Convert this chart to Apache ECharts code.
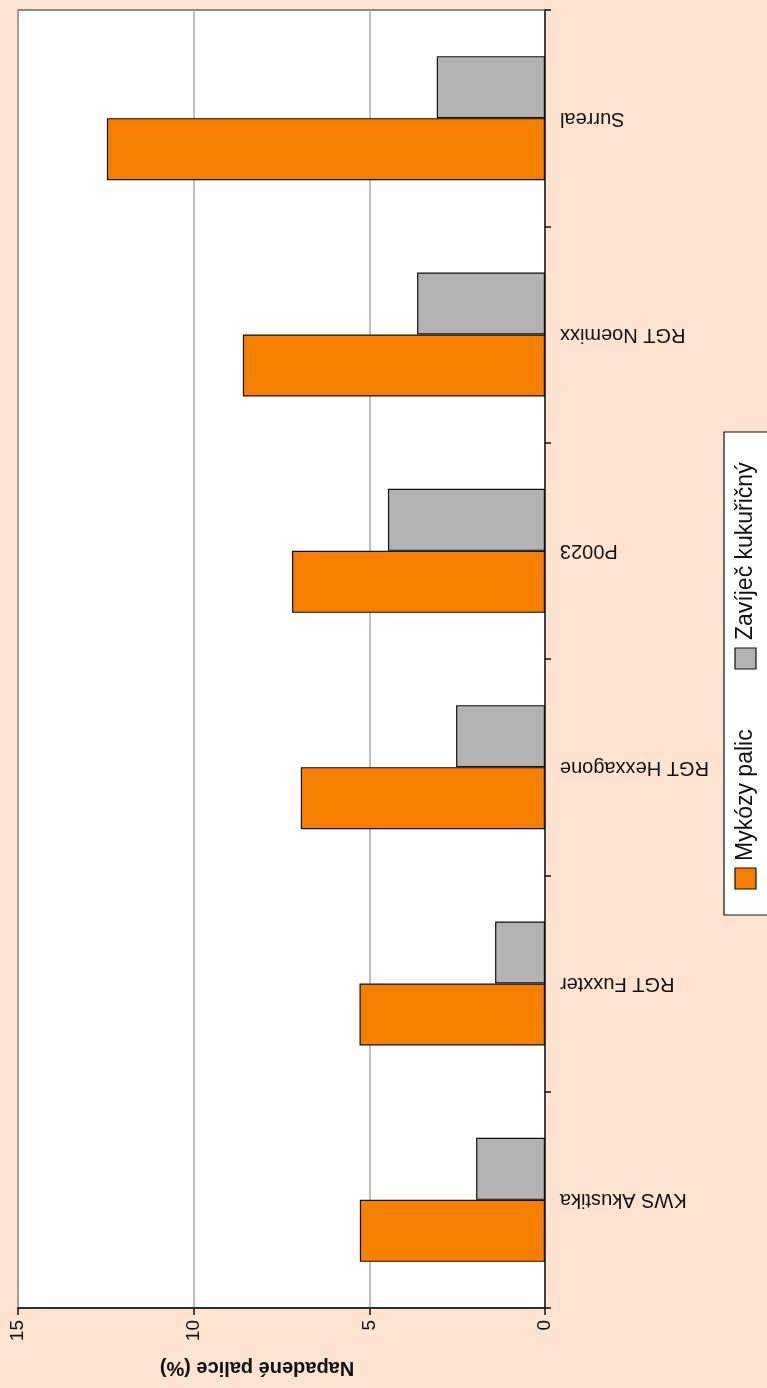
<!DOCTYPE html>
<html>
<head>
<meta charset="utf-8">
<script src="https://cdn.jsdelivr.net/npm/echarts@6/dist/echarts.min.js"></script>
<style>
html,body{margin:0;padding:0;background:#FDE3D0;}
#chart{width:767px;height:1388px;}
</style>
</head>
<body>
<div id="chart"></div>
<script>
var categories = ['KWS Akustika', 'RGT Fuxxter', 'RGT Hexxagone', 'P0023', 'RGT Noemixx', 'Surreal'];
var mykozyPalic = [5.27, 5.28, 6.95, 7.2, 8.6, 12.47];
var zavijec = [1.96, 1.42, 2.53, 4.47, 3.64, 3.08];
var seriesNames = ['Mykózy palic', 'Zavíječ kukuřičný'];
var axisTitle = 'Napadené palice (%)';
var valueMin = 0, valueMax = 15, valueStep = 5;

var chart = echarts.init(document.getElementById('chart'), null, {renderer: 'canvas'});
var font = 'Liberation Sans, Arial, Helvetica, sans-serif';
chart.setOption({
  backgroundColor: '#FDE3D0',
  animation: false,
  grid: {left: 18, right: 222, top: 10, bottom: 80, show: true, backgroundColor: '#ffffff', borderColor: '#8a8a8a', borderWidth: 2},
  xAxis: {
    type: 'value', inverse: true, min: valueMin, max: valueMax, interval: valueStep, position: 'bottom',
    axisLine: {show: true, lineStyle: {color: '#111', width: 1.5}},
    axisTick: {show: true, length: 7, lineStyle: {color: '#111', width: 1.5}},
    axisLabel: {rotate: 90, fontSize: 19, color: '#111', fontFamily: font, margin: 12},
    splitLine: {show: true, lineStyle: {color: '#aaaaaa', width: 1.5}}
  },
  yAxis: {
    type: 'category', data: categories, position: 'right',
    axisLine: {show: true, lineStyle: {color: '#222', width: 1.5}},
    axisTick: {show: true, length: 6, lineStyle: {color: '#111', width: 1.5}},
    axisLabel: {rotate: 180, fontSize: 20, color: '#111', fontFamily: font, margin: 15},
    splitLine: {show: false}
  },
  series: [
    {name: seriesNames[1], type: 'bar', data: zavijec, barWidth: 62, barGap: '0%',
     itemStyle: {color: '#B3B3B3', borderColor: '#111', borderWidth: 1.2}},
    {name: seriesNames[0], type: 'bar', data: mykozyPalic, barWidth: 62, barGap: '0%',
     itemStyle: {color: '#F77F00', borderColor: '#111', borderWidth: 1.2}}
  ],
  graphic: [
    {type: 'text', x: 257, y: 1368, rotation: Math.PI, style: {text: axisTitle, font: 'bold 20px ' + font, fill: '#111', align: 'center', verticalAlign: 'middle'}},
    {type: 'rect', shape: {x: 724, y: 432, width: 60, height: 483}, style: {fill: '#ffffff', stroke: '#111', lineWidth: 1.2}},
    {type: 'rect', shape: {x: 735, y: 868, width: 21, height: 21}, style: {fill: '#F77F00', stroke: '#111', lineWidth: 1.2}},
    {type: 'text', x: 746, y: 861, rotation: Math.PI / 2, style: {text: seriesNames[0], font: '23px ' + font, fill: '#111', align: 'left', verticalAlign: 'middle'}},
    {type: 'rect', shape: {x: 735, y: 648, width: 21, height: 21}, style: {fill: '#B3B3B3', stroke: '#111', lineWidth: 1.2}},
    {type: 'text', x: 746, y: 640, rotation: Math.PI / 2, style: {text: seriesNames[1], font: '23px ' + font, fill: '#111', align: 'left', verticalAlign: 'middle'}}
  ]
});
</script>
</body>
</html>
